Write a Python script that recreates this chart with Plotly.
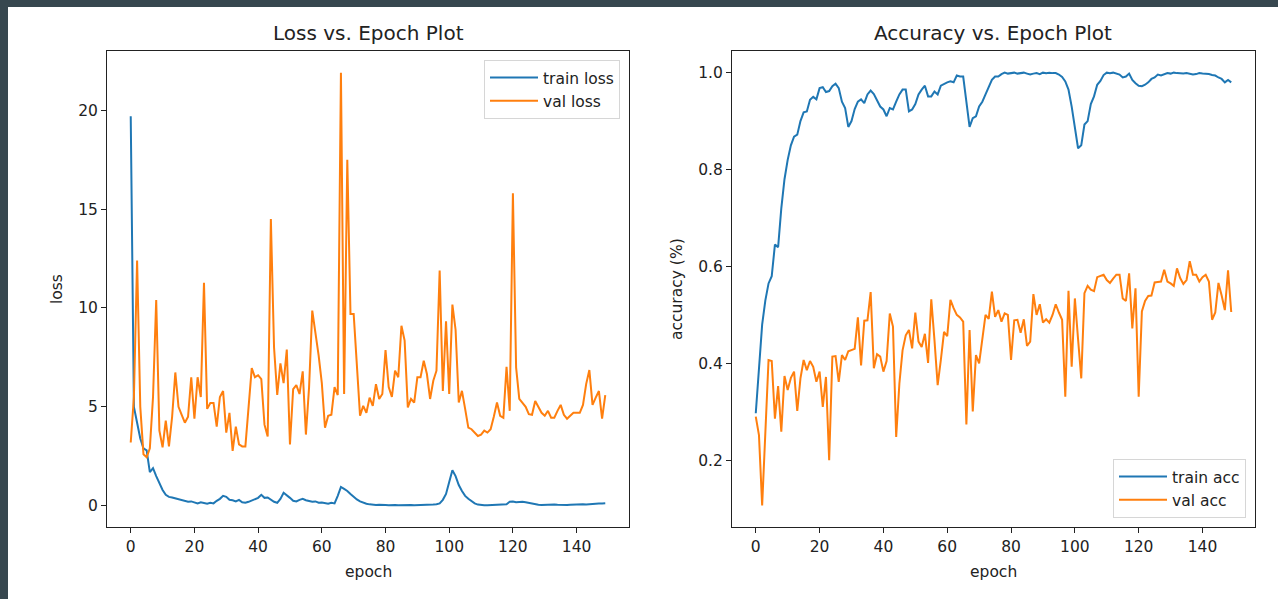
import plotly.graph_objects as go

W, H = 1278, 599

epochs = list(range(150))

train_loss = [19.7, 5.0, 4.2, 3.4, 2.9, 2.8, 1.7, 1.9, 1.5, 1.1,
              0.8, 0.55, 0.45, 0.42, 0.38, 0.32, 0.3, 0.25, 0.2, 0.22,
              0.15, 0.12, 0.18, 0.14, 0.1, 0.15, 0.12, 0.25, 0.35, 0.5,
              0.45, 0.3, 0.28, 0.22, 0.3, 0.18, 0.15, 0.2, 0.28, 0.35,
              0.4, 0.55, 0.4, 0.42, 0.3, 0.2, 0.15, 0.35, 0.66, 0.55,
              0.4, 0.25, 0.22, 0.3, 0.35, 0.28, 0.25, 0.2, 0.22, 0.15,
              0.17, 0.12, 0.1, 0.15, 0.12, 0.5, 0.95, 0.85, 0.75, 0.6,
              0.45, 0.32, 0.22, 0.15, 0.1, 0.07, 0.05, 0.04, 0.05, 0.03,
              0.04, 0.03, 0.05, 0.04, 0.03, 0.04, 0.03, 0.05, 0.04, 0.03,
              0.03, 0.04, 0.03, 0.04, 0.05, 0.06, 0.08, 0.12, 0.3, 0.6,
              1.2, 1.79, 1.5, 1.05, 0.75, 0.5, 0.35, 0.22, 0.12, 0.06,
              0.03, 0.03, 0.02, 0.03, 0.03, 0.04, 0.03, 0.04, 0.08, 0.2,
              0.22, 0.18, 0.2, 0.2, 0.18, 0.15, 0.1, 0.06, 0.05, 0.04,
              0.05, 0.04, 0.05, 0.06, 0.05, 0.04, 0.05, 0.04, 0.05, 0.06,
              0.05, 0.06, 0.07, 0.06, 0.08, 0.1, 0.11, 0.12, 0.12, 0.13]

val_loss = [3.2, 5.5, 12.4, 5.0, 2.6, 2.45, 2.9, 5.5, 10.4, 3.8,
            2.95, 4.3, 3.0, 4.5, 6.74, 5.0, 4.6, 4.2, 4.5, 6.5,
            4.4, 6.5, 5.5, 11.27, 4.9, 5.2, 5.2, 4.0, 5.5, 5.8,
            3.7, 4.7, 2.77, 4.0, 3.1, 3.0, 3.0, 5.0, 6.96, 6.5,
            6.6, 6.4, 4.1, 3.5, 14.5, 8.0, 5.6, 7.2, 6.2, 7.9,
            3.1, 5.9, 6.1, 5.65, 6.8, 3.6, 6.0, 9.87, 8.8, 7.6,
            6.2, 3.95, 4.55, 4.6, 6.0, 5.6, 21.9, 5.65, 17.5, 9.7,
            9.7, 7.0, 4.55, 5.05, 4.7, 5.47, 5.05, 6.15, 5.4, 5.65,
            7.87, 6.0, 5.5, 6.83, 6.5, 9.1, 8.35, 4.97, 5.4, 5.22,
            6.5, 6.5, 7.33, 6.66, 5.4, 6.32, 6.83, 11.9, 5.8, 9.33,
            5.65, 10.17, 8.9, 5.22, 5.81, 4.9, 3.95, 3.87, 3.7, 3.53,
            3.6, 3.8, 3.7, 3.87, 4.5, 5.22, 4.55, 4.45, 7.03, 4.8,
            15.8, 7.0, 5.4, 5.22, 5.0, 4.63, 4.6, 5.3, 4.97, 4.7,
            4.55, 4.8, 4.45, 4.45, 4.8, 5.1, 4.6, 4.4, 4.55, 4.7,
            4.7, 4.7, 5.1, 6.15, 6.86, 5.1, 5.47, 5.8, 4.4, 5.6]

train_acc = [0.297, 0.4, 0.48, 0.53, 0.565, 0.58, 0.645, 0.64, 0.72, 0.78,
             0.82, 0.85, 0.868, 0.872, 0.9, 0.918, 0.92, 0.944, 0.95, 0.945,
             0.968, 0.97, 0.96, 0.962, 0.972, 0.977, 0.968, 0.94, 0.927, 0.888,
             0.9, 0.925, 0.94, 0.945, 0.937, 0.955, 0.963, 0.956, 0.944, 0.93,
             0.924, 0.91, 0.927, 0.924, 0.94, 0.955, 0.965, 0.965, 0.92, 0.924,
             0.935, 0.955, 0.965, 0.973, 0.951, 0.951, 0.961, 0.955, 0.973, 0.977,
             0.98, 0.982, 0.98, 0.994, 0.992, 0.992, 0.94, 0.888, 0.906, 0.91,
             0.93, 0.94, 0.955, 0.97, 0.985, 0.992, 0.992, 0.997, 1.0, 0.998,
             0.999, 1.0, 0.998, 0.999, 1.0, 0.998, 0.996, 0.998, 0.999, 0.997,
             1.0, 0.999, 1.0, 0.999, 0.999, 0.996, 0.991, 0.982, 0.965, 0.93,
             0.89, 0.844, 0.85, 0.893, 0.9, 0.935, 0.951, 0.975, 0.983, 0.995,
             1.0, 0.999, 1.0, 0.998, 0.996, 0.99, 0.992, 0.998, 0.985, 0.978,
             0.973, 0.972, 0.975, 0.98, 0.987, 0.99, 0.996, 0.994, 0.996, 0.999,
             0.998, 1.0, 0.999, 0.998, 0.998, 0.999, 0.998, 0.996, 0.997, 0.999,
             0.998, 0.998, 0.997, 0.995, 0.994, 0.99, 0.987, 0.98, 0.985, 0.98]

val_acc = [0.29, 0.252, 0.107, 0.26, 0.407, 0.405, 0.286, 0.353, 0.259, 0.374,
           0.345, 0.37, 0.383, 0.302, 0.369, 0.407, 0.386, 0.405, 0.393, 0.362,
           0.383, 0.31, 0.372, 0.2, 0.414, 0.415, 0.362, 0.417, 0.407, 0.425,
           0.427, 0.43, 0.495, 0.396, 0.488, 0.489, 0.547, 0.39, 0.419, 0.414,
           0.383, 0.405, 0.503, 0.476, 0.248, 0.358, 0.427, 0.458, 0.469, 0.431,
           0.505, 0.445, 0.434, 0.461, 0.401, 0.532, 0.448, 0.355, 0.407, 0.465,
           0.456, 0.531, 0.514, 0.5, 0.495, 0.486, 0.274, 0.469, 0.301, 0.417,
           0.4, 0.455, 0.5, 0.492, 0.548, 0.496, 0.51, 0.486, 0.503, 0.5,
           0.407, 0.489, 0.49, 0.463, 0.491, 0.436, 0.445, 0.543, 0.5, 0.522,
           0.484, 0.491, 0.484, 0.5, 0.522, 0.505, 0.49, 0.331, 0.55, 0.393,
           0.534, 0.45, 0.369, 0.545, 0.56, 0.552, 0.549, 0.578, 0.58, 0.583,
           0.572, 0.566, 0.575, 0.583, 0.583, 0.534, 0.529, 0.586, 0.472, 0.555,
           0.331, 0.507, 0.529, 0.539, 0.54, 0.567, 0.568, 0.569, 0.593, 0.569,
           0.565, 0.56, 0.596, 0.576, 0.564, 0.572, 0.611, 0.583, 0.583, 0.569,
           0.578, 0.583, 0.569, 0.49, 0.505, 0.566, 0.54, 0.51, 0.592, 0.506]

x_ticks = [0, 20, 40, 60, 80, 100, 120, 140]
loss_ticks = [0, 5, 10, 15, 20]
acc_ticks = [0.2, 0.4, 0.6, 0.8, 1.0]

BLUE = "#1f77b4"
ORANGE = "#ff7f0e"
FONT = "DejaVu Sans"
TEXT = "#222222"
TICK_SIZE = 15.5
TITLE_SIZE = 20

def px_x(p):
    return p / W

def px_y(p):
    return 1 - p / H

L_X = (px_x(107), px_x(629))
R_X = (px_x(732), px_x(1255))
Y_D = (px_y(527), px_y(51))

fig = go.Figure()
fig.add_trace(go.Scatter(x=epochs, y=train_loss, mode="lines", name="train loss",
                         line=dict(color=BLUE, width=2), xaxis="x", yaxis="y", legend="legend"))
fig.add_trace(go.Scatter(x=epochs, y=val_loss, mode="lines", name="val loss",
                         line=dict(color=ORANGE, width=2), xaxis="x", yaxis="y", legend="legend"))
fig.add_trace(go.Scatter(x=epochs, y=train_acc, mode="lines", name="train acc",
                         line=dict(color=BLUE, width=2), xaxis="x2", yaxis="y2", legend="legend2"))
fig.add_trace(go.Scatter(x=epochs, y=val_acc, mode="lines", name="val acc",
                         line=dict(color=ORANGE, width=2), xaxis="x2", yaxis="y2", legend="legend2"))

axis_common = dict(showgrid=False, zeroline=False, showline=True, linecolor=TEXT,
                   linewidth=1, mirror=True, ticks="outside", ticklen=5, tickwidth=1,
                   tickcolor=TEXT, tickfont=dict(family=FONT, size=TICK_SIZE, color=TEXT))

def xr(n):
    span = n - 1
    return [-0.05 * span, span + 0.05 * span]

def yr(vals):
    lo, hi = min(vals), max(vals)
    m = 0.05 * (hi - lo)
    return [lo - m, hi + m]

legend_common = dict(font=dict(family=FONT, size=TICK_SIZE, color=TEXT),
                     bgcolor="rgba(255,255,255,0.85)", bordercolor="#d6d6d6", borderwidth=1,
                     tracegroupgap=4, itemwidth=48)

def label(text, x, y, size=TICK_SIZE, angle=0):
    return dict(text=text, x=px_x(x), y=px_y(y), xref="paper", yref="paper",
                xanchor="center", yanchor="middle", textangle=angle, showarrow=False,
                font=dict(family=FONT, size=size, color=TEXT))

fig.update_layout(
    width=W, height=H,
    margin=dict(l=0, r=0, t=0, b=0),
    paper_bgcolor="#37474f",
    plot_bgcolor="white",
    font=dict(family=FONT, color=TEXT),
    xaxis=dict(domain=list(L_X), anchor="y", range=xr(len(epochs)), tickvals=x_ticks, **axis_common),
    yaxis=dict(domain=list(Y_D), anchor="x", range=yr(train_loss + val_loss), tickvals=loss_ticks, **axis_common),
    xaxis2=dict(domain=list(R_X), anchor="y2", range=xr(len(epochs)), tickvals=x_ticks, **axis_common),
    yaxis2=dict(domain=list(Y_D), anchor="x2", range=yr(train_acc + val_acc), tickvals=acc_ticks,
                tickformat=".1f", **axis_common),
    legend=dict(x=px_x(620), y=px_y(60), xanchor="right", yanchor="top", **legend_common),
    legend2=dict(x=px_x(1246), y=px_y(518), xanchor="right", yanchor="bottom", **legend_common),
    shapes=[dict(type="rect", xref="paper", yref="paper", x0=px_x(8), x1=1, y0=0, y1=px_y(7),
                 fillcolor="white", line=dict(width=0), layer="below")],
    annotations=[
        label("Loss vs. Epoch Plot", 368, 33, TITLE_SIZE),
        label("Accuracy vs. Epoch Plot", 993, 33, TITLE_SIZE),
        label("epoch", 368, 572),
        label("epoch", 993, 572),
        label("loss", 57, 289, angle=-90),
        label("accuracy (%)", 677, 289, angle=-90),
    ],
)

fig.write_html("out.html")
